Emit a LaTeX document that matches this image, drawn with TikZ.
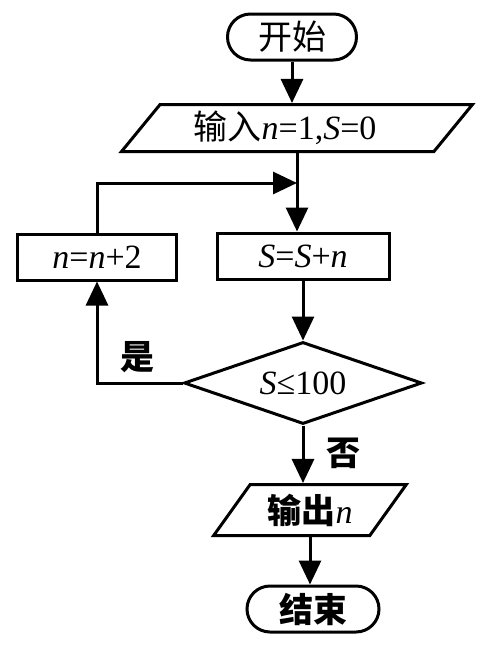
\documentclass[tikz,border=0pt]{standalone}
\usepackage{fontspec}
\setmainfont{Liberation Serif}
\newfontfamily\cjk{Noto Sans CJK SC}
\usetikzlibrary{shapes.geometric,arrows.meta}

\begin{document}
\begin{tikzpicture}[x=1pt,y=-1pt,line width=3pt,
  font=\fontsize{34}{40}\selectfont,
  term/.style={draw,rectangle,rounded corners=23pt,minimum height=46pt,inner sep=0pt},
  io/.style={draw,trapezium,trapezium stretches=true,inner sep=0pt},
  proc/.style={draw,rectangle,minimum height=46pt,inner sep=0pt},
  decide/.style={draw,diamond,aspect=2.9,minimum width=238pt,minimum height=82pt,inner sep=0pt},
  arr/.style={-{Triangle[length=24pt,width=22pt]}}]
  \useasboundingbox (0,0) rectangle (485,645);

  \node[term,minimum width=129pt] (start) at (292,37) {\cjk 开始};
  \node[io,trapezium left angle=56.6,trapezium right angle=123.4,
        minimum width=352pt,minimum height=47pt] (input) at (297,128)
        {\hspace*{-24pt}{\cjk 输入}\textit{n}=1,\textit{S}=0};
  \node[proc,minimum width=172pt] (calc) at (303,256) {\textit{S}=\textit{S}+\textit{n}};
  \node[proc,minimum width=159pt] (upd) at (97,257) {\textit{n}=\textit{n}+2};
  \node[decide] (test) at (303,383) {\textit{S}≤100};
  \node[io,trapezium left angle=51.5,trapezium right angle=128.5,
        minimum width=193pt,minimum height=51pt] (output) at (310,510)
        {{\cjk\bfseries 输出}\textit{n}};
  \node[term,minimum width=132pt] (stop) at (313,609) {\cjk\bfseries 结束};

  \coordinate (merge) at (297,183);
  \node (yes) at (137,357) {\cjk\bfseries 是};
  \node (no) at (343,453) {\cjk\bfseries 否};

  \draw[arr] (start.south) -- (start.south |- input.north);
  \draw[arr] (input.south) -- (input.south |- calc.north);
  \draw[arr] (upd.north) |- (merge);
  \draw[arr] (calc.south) -- (test.north);
  \draw[arr] (test.west) -| (upd.south);
  \draw[arr] (test.south) -- (test.south |- output.north);
  \draw[arr] (output.south) -- (output.south |- stop.north);
\end{tikzpicture}
\end{document}
